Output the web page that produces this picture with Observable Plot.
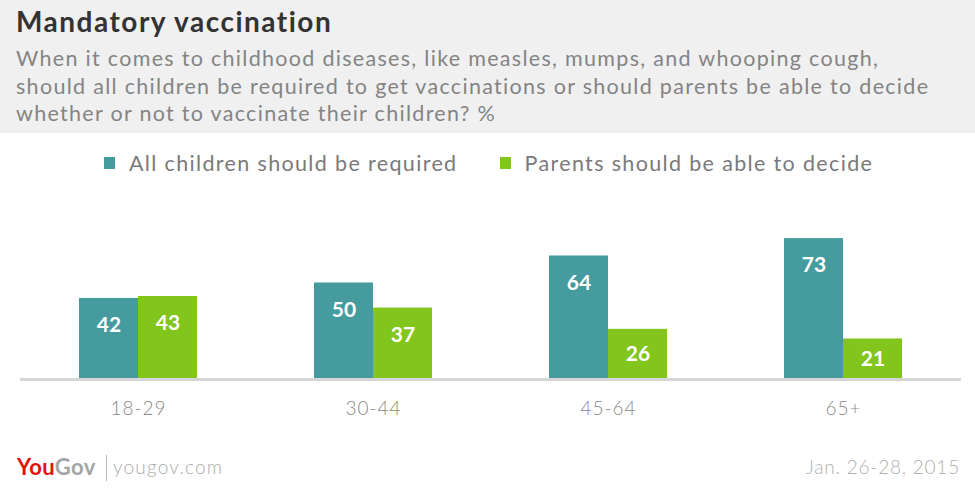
<!DOCTYPE html>
<html>
<head>
<meta charset="utf-8">
<script src="https://cdn.jsdelivr.net/npm/d3@7"></script>
<script src="https://cdn.jsdelivr.net/npm/@observablehq/plot@0.6"></script>
<style>
  body { margin: 0; width: 975px; height: 493px; position: relative; background: #fff; font-family: Lato, "Open Sans", sans-serif; overflow: hidden; }
  #header { position: absolute; left: 0; top: 0; width: 975px; height: 133px; background: #f0f0f0; }
  #title { position: absolute; left: 16px; top: 4px; font-size: 28px; font-weight: 700; color: #333; letter-spacing: 1.5px; }
  #subtitle { position: absolute; left: 16px; top: 45px; font-size: 21.5px; line-height: 27.5px; color: #848484; font-weight: 400; letter-spacing: 1.3px; }
  #legend { position: absolute; left: 104px; top: 150px; font-size: 21.5px; color: #7a7a7a; display: flex; letter-spacing: 1.35px; }
  #legend .item { display: flex; align-items: center; margin-right: 42px; }
  #legend .sw { width: 11px; height: 12px; margin-right: 14px; }
  #chart { position: absolute; left: 0; top: 186px; }
  #footer { position: absolute; left: 0; top: 452px; width: 975px; height: 30px; }
  #logo { position: absolute; left: 17px; top: 1px; font-size: 22px; font-weight: 700; letter-spacing: 0.4px; }
  #logo .you { color: #e3120b; }
  #logo .gov { color: #a5a5a5; }
  #sep { position: absolute; left: 106px; top: 3px; width: 1px; height: 26px; background: #bbb; }
  #site { position: absolute; left: 113px; top: 3px; font-size: 19px; color: #ababab; font-weight: 300; letter-spacing: 1.2px; }
  #date { position: absolute; right: 15px; top: 3px; font-size: 19px; color: #b0b0b0; font-weight: 300; letter-spacing: 0.8px; }
</style>
</head>
<body>
<div id="header">
  <div id="title">Mandatory vaccination</div>
  <div id="subtitle">When it comes to childhood diseases, like measles, mumps, and whooping cough,<br>should all children be required to get vaccinations or should parents be able to decide<br>whether or not to vaccinate their children? %</div>
</div>
<div id="legend"></div>
<div id="chart"></div>
<div id="footer">
  <div id="logo"><span class="you">You</span><span class="gov">Gov</span></div>
  <div id="sep"></div>
  <div id="site">yougov.com</div>
  <div id="date">Jan. 26-28, 2015</div>
</div>
<script>
const groups = ["18-29", "30-44", "45-64", "65+"];
const seriesNames = ["All children should be required", "Parents should be able to decide"];
const seriesColors = ["#469b9e", "#82c51c"];
const required = [42, 50, 64, 73];
const decide = [43, 37, 26, 21];

// long table for the plot
const data = [];
groups.forEach((g, i) => {
  data.push({ group: g, series: seriesNames[0], value: required[i] });
  data.push({ group: g, series: seriesNames[1], value: decide[i] });
});

// legend
const legend = document.getElementById("legend");
seriesNames.forEach((name, i) => {
  const item = document.createElement("div");
  item.className = "item";
  item.innerHTML = `<span class="sw" style="background:${seriesColors[i]}"></span><span>${name}</span>`;
  legend.appendChild(item);
});

const chart = Plot.plot({
  width: 975,
  height: 240,
  marginTop: 0,
  marginBottom: 47,
  marginLeft: 20,
  marginRight: 15,
  style: { fontFamily: "Lato, sans-serif", background: "transparent" },
  fx: {
    domain: groups,
    label: null,
    paddingInner: 0.5,
    paddingOuter: 0.25,
    tickSize: 0,
    tickPadding: 22,
  },
  x: { domain: seriesNames, axis: null, padding: 0 },
  y: { domain: [0, 100], axis: null },
  color: { domain: seriesNames, range: seriesColors },
  marks: [
    Plot.barY(data, { fx: "group", x: "series", y: "value", fill: "series" }),
    // baseline: stretched across the gaps between facets
    Plot.ruleY([0], { stroke: "#d6d6d6", strokeWidth: 3, insetLeft: -59, insetRight: -59 }),
    Plot.text(data, {
      fx: "group",
      x: "series",
      // near the top of the bar, or centred when the bar is short
      y: (d) => Math.max(d.value - 14, d.value / 2),
      text: (d) => String(d.value),
      fill: "white",
      fontWeight: "bold",
      fontSize: 21,
    }),
  ],
});
chart.querySelectorAll("g[aria-label^='fx-axis'] text").forEach((t) => {
  t.setAttribute("fill", "#888");
  t.setAttribute("font-weight", "300");
  t.setAttribute("font-size", "19px");
  t.setAttribute("letter-spacing", "1px");
});
document.getElementById("chart").appendChild(chart);
</script>
</body>
</html>
